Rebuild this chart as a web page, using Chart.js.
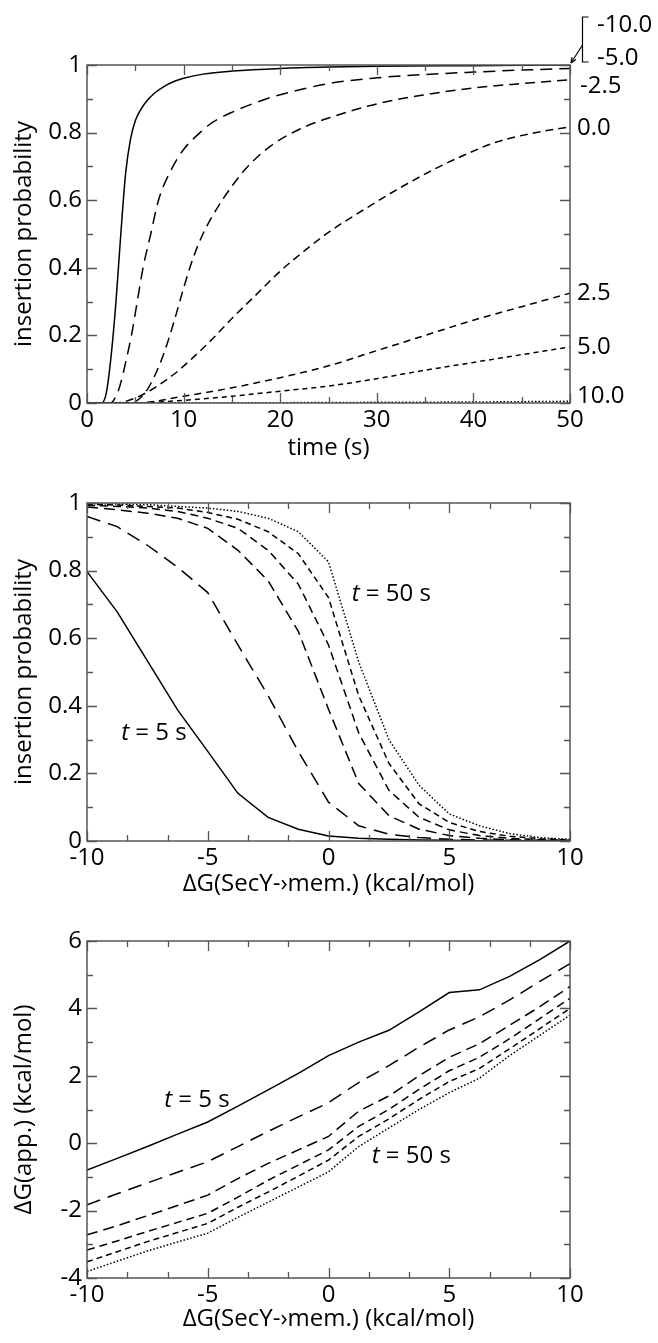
<!DOCTYPE html>
<html>
<head>
<meta charset="utf-8">
<script src="https://cdn.jsdelivr.net/npm/chart.js@4.4.1/dist/chart.umd.min.js"></script>
<style>
html,body{margin:0;padding:0;background:#fff;}
canvas{position:absolute;left:0;display:block;}
</style>
</head>
<body>
<canvas id="c1" width="658" height="470" style="top:0px"></canvas>
<canvas id="c2" width="658" height="440" style="top:470px"></canvas>
<canvas id="c3" width="658" height="433" style="top:910px"></canvas>
<script>
// ---------- Panel 1: insertion probability vs time, for several ΔG values ----------
const seriesLabels = ['-10.0', '-5.0', '-2.5', '0.0', '2.5', '5.0', '10.0'];
const timeM10 = [0,1.5,2,2.5,3,3.5,4,4.5,5,5.5,6,7,8,9,10,12,15,20,25,30,40,50];
const probM10 = [0,0,0.03,0.14,0.3,0.5,0.68,0.78,0.835,0.865,0.887,0.917,0.937,0.951,0.961,0.973,0.982,0.99,0.994,0.996,0.998,1.0];
const timeM5  = [0,2.4,3,3.5,4,4.6,5.2,5.8,6.6,7.4,8.9,10,11.7,13,15,18.6,20,25,30,35,40,45,50];
const probM5  = [0,0,0.02,0.06,0.12,0.2,0.3,0.4,0.5,0.6,0.7,0.75,0.8,0.83,0.86,0.9,0.912,0.945,0.962,0.972,0.979,0.985,0.99];
const timeM25 = [0,4.5,6,7,8,9,10,11,12,14,16.5,19,22,25,30,35,40,45,50];
const probM25 = [0,0,0.03,0.08,0.15,0.24,0.34,0.43,0.5,0.6,0.695,0.76,0.81,0.843,0.885,0.912,0.932,0.945,0.956];
const time0   = [0,3,5,7,9,11,13,15,17.5,20,22.5,25,28.6,32,35.5,39,42.4,45.9,50];
const prob0   = [0,0,0.015,0.045,0.085,0.135,0.19,0.25,0.32,0.39,0.45,0.505,0.571,0.63,0.685,0.733,0.772,0.797,0.817];
const time25  = [0,5,10,15,20,25,30,35,40,45,50];
const prob25  = [0,0,0.02,0.045,0.075,0.11,0.155,0.2,0.245,0.285,0.325];
const time5   = [0,5,10,15,20,25,30,35,40,45,50];
const prob5   = [0,0,0.008,0.02,0.035,0.05,0.072,0.097,0.12,0.143,0.166];
const time10  = [0,10,20,30,40,50];
const prob10  = [0,0,0.001,0.002,0.003,0.005];

// ---------- Panels 2 and 3: versus ΔG(SecY->mem.) ----------
const dG = [-10,-8.75,-7.5,-6.25,-5,-3.75,-2.5,-1.25,0,1.25,2.5,3.75,5,6.25,7.5,8.75,10];
const insT5  = [0.797,0.678,0.533,0.388,0.265,0.141,0.07,0.035,0.015,0.008,0.005,0.003,0.002,0.001,0.001,0.0005,0.0003];
const insT10 = [0.96,0.93,0.875,0.81,0.735,0.58,0.43,0.265,0.115,0.045,0.02,0.01,0.005,0.003,0.002,0.001,0.0005];
const insT20 = [0.988,0.98,0.97,0.955,0.925,0.86,0.77,0.62,0.39,0.17,0.075,0.035,0.016,0.008,0.004,0.002,0.001];
const insT30 = [0.993,0.99,0.985,0.975,0.955,0.925,0.86,0.76,0.58,0.32,0.15,0.07,0.033,0.016,0.008,0.004,0.002];
const insT40 = [0.996,0.994,0.99,0.985,0.972,0.952,0.915,0.85,0.72,0.43,0.23,0.11,0.055,0.028,0.014,0.007,0.003];
const insT50 = [0.998,0.997,0.995,0.99,0.985,0.975,0.955,0.915,0.826,0.53,0.30,0.165,0.08,0.045,0.022,0.01,0.005];

const appT5  = [-0.8,-0.45,-0.1,0.27,0.63,1.1,1.58,2.07,2.6,3.0,3.35,3.9,4.47,4.55,4.95,5.45,6.0];
const appT10 = [-1.83,-1.5,-1.18,-0.86,-0.55,-0.1,0.35,0.78,1.2,1.8,2.3,2.85,3.36,3.75,4.25,4.8,5.33];
const appT20 = [-2.72,-2.45,-2.15,-1.85,-1.54,-1.05,-0.6,-0.2,0.2,0.95,1.4,2.0,2.55,2.95,3.5,4.05,4.65];
const appT30 = [-3.17,-2.9,-2.62,-2.35,-2.08,-1.6,-1.1,-0.65,-0.2,0.5,1.0,1.6,2.15,2.55,3.1,3.7,4.3];
const appT40 = [-3.52,-3.22,-2.92,-2.65,-2.38,-1.9,-1.45,-0.98,-0.5,0.2,0.72,1.3,1.83,2.22,2.8,3.4,4.0];
const appT50 = [-3.81,-3.5,-3.2,-2.93,-2.67,-2.2,-1.75,-1.3,-0.85,-0.1,0.45,1.0,1.5,1.93,2.6,3.2,3.8];

const timeTicks = [0,10,20,30,40,50];
const probTicks = [0,0.2,0.4,0.6,0.8,1];
const dGTicks = [-10,-5,0,5,10];
const appTicks = [-4,-2,0,2,4,6];

// ---------- helpers ----------
const FONT = '"Open Sans", "DejaVu Sans", sans-serif';
Chart.defaults.font.family = FONT;
Chart.defaults.font.size = 24;
Chart.defaults.color = '#000';

const pts = (xs, ys) => xs.map((x, i) => ({x, y: ys[i]}));
function line(xs, ys, dash, smooth) {
  return {
    data: pts(xs, ys), borderColor: '#000', borderWidth: 1.5, borderDash: dash,
    pointRadius: 0, fill: false, tension: 0,
    cubicInterpolationMode: smooth ? 'monotone' : 'default', borderCapStyle: 'butt'
  };
}

const frameTicks = {
  id: 'frameTicks',
  afterDatasetsDraw(chart, args, o) {
    const {ctx, chartArea: a, scales: {x, y}} = chart;
    ctx.save();
    ctx.strokeStyle = '#555';
    ctx.lineWidth = 1.3;
    ctx.beginPath();
    const nx = Math.round((o.xMax - o.xMin) / o.xMinor);
    for (let i = 0; i <= nx; i++) {
      const v = o.xMin + i * o.xMinor;
      const r = v / o.xMajor;
      const L = Math.abs(r - Math.round(r)) < 1e-6 ? 10 : 6;
      const px = Math.round(x.getPixelForValue(v)) + 0.5;
      ctx.moveTo(px, a.bottom); ctx.lineTo(px, a.bottom - L);
      ctx.moveTo(px, a.top); ctx.lineTo(px, a.top + L);
    }
    const ny = Math.round((o.yMax - o.yMin) / o.yMinor);
    for (let i = 0; i <= ny; i++) {
      const v = o.yMin + i * o.yMinor;
      const r = v / o.yMajor;
      const L = Math.abs(r - Math.round(r)) < 1e-6 ? 10 : 6;
      const py = Math.round(y.getPixelForValue(v)) + 0.5;
      ctx.moveTo(a.left, py); ctx.lineTo(a.left + L, py);
      ctx.moveTo(a.right, py); ctx.lineTo(a.right - L, py);
    }
    ctx.stroke();
    ctx.lineWidth = 1.5;
    ctx.strokeRect(a.left, a.top, a.right - a.left, a.bottom - a.top);
    ctx.restore();
  }
};

function drawTLabel(ctx, cx, cy, rest) {
  ctx.save();
  ctx.fillStyle = '#000';
  ctx.textBaseline = 'middle';
  ctx.textAlign = 'left';
  const fi = 'italic 24px ' + FONT, fn = '24px ' + FONT;
  ctx.font = fi; const w1 = ctx.measureText('t').width;
  ctx.font = fn; const w2 = ctx.measureText(rest).width;
  let x0 = cx - (w1 + w2) / 2;
  ctx.font = fi; ctx.fillText('t', x0, cy);
  ctx.font = fn; ctx.fillText(rest, x0 + w1, cy);
  ctx.restore();
}

const tLabels = {
  id: 'tLabels',
  afterDraw(chart, args, o) {
    if (!o.items) return;
    const {ctx, scales: {x, y}} = chart;
    o.items.forEach(it => drawTLabel(ctx, x.getPixelForValue(it[0]), y.getPixelForValue(it[1]), it[2]));
  }
};

const curveLabels = {
  id: 'curveLabels',
  afterDraw(chart, args, o) {
    if (!o.show) return;
    const {ctx, chartArea: a, scales: {y}} = chart;
    const ds = chart.data.datasets;
    const endY = i => y.getPixelForValue(ds[i].data[ds[i].data.length - 1].y);
    ctx.save();
    ctx.fillStyle = '#000';
    ctx.font = '24px ' + FONT;
    ctx.textBaseline = 'middle';
    ctx.textAlign = 'left';
    const xr = a.right;
    const top = endY(0);
    ctx.fillText(seriesLabels[0], xr + 27, top - 40);
    ctx.fillText(seriesLabels[1], xr + 27, top - 7);
    ctx.fillText(seriesLabels[2], xr + 10, endY(2) + 6);
    ctx.fillText(seriesLabels[3], xr + 7, endY(3) + 1);
    ctx.fillText(seriesLabels[4], xr + 7, endY(4));
    ctx.fillText(seriesLabels[5], xr + 7, endY(5));
    ctx.fillText(seriesLabels[6], xr + 7, endY(6) - 5);
    ctx.strokeStyle = '#000';
    ctx.lineWidth = 1.2;
    const bx = xr + 12.5;
    ctx.beginPath();
    ctx.moveTo(bx + 6, top - 48); ctx.lineTo(bx, top - 48); ctx.lineTo(bx, top - 3); ctx.lineTo(bx + 6, top - 3);
    ctx.moveTo(bx, top - 20); ctx.lineTo(xr + 1, top - 2);
    ctx.stroke();
    const ang = Math.atan2((top - 2) - (top - 20), (xr + 1) - bx);
    ctx.beginPath();
    ctx.moveTo(xr + 1, top - 2);
    ctx.lineTo(xr + 1 - 6 * Math.cos(ang - 0.4), top - 2 - 6 * Math.sin(ang - 0.4));
    ctx.moveTo(xr + 1, top - 2);
    ctx.lineTo(xr + 1 - 6 * Math.cos(ang + 0.4), top - 2 - 6 * Math.sin(ang + 0.4));
    ctx.stroke();
    ctx.restore();
  }
};

function fmt(v) { return String(+(+v).toFixed(1)); }

function makeChart(id, datasets, cfg) {
  return new Chart(document.getElementById(id), {
    type: 'line',
    data: {datasets},
    plugins: [frameTicks, tLabels, curveLabels],
    options: {
      responsive: false,
      animation: false,
      events: [],
      layout: {padding: {left: 0, right: 88, top: cfg.areaTop, bottom: 0}},
      plugins: {
        legend: {display: false},
        tooltip: {enabled: false},
        frameTicks: cfg.ticks,
        tLabels: {items: cfg.tItems},
        curveLabels: {show: !!cfg.curveLabels}
      },
      scales: {
        x: {
          type: 'linear', min: cfg.xMin, max: cfg.xMax,
          grid: {display: false, drawTicks: false},
          border: {display: false},
          afterBuildTicks: s => { s.ticks = cfg.xTicks.map(v => ({value: v})); },
          afterFit: s => { s.height = cfg.canvasH - cfg.areaBottom; },
          ticks: {padding: 3, maxRotation: 0, autoSkip: false, callback: v => fmt(v)},
          title: {display: true, text: cfg.xTitle, padding: {top: 0, bottom: cfg.xTitlePad}, font: {size: 24}}
        },
        y: {
          type: 'linear', min: cfg.yMin, max: cfg.yMax,
          grid: {display: false, drawTicks: false},
          border: {display: false},
          afterBuildTicks: s => { s.ticks = cfg.yTicks.map(v => ({value: v})); },
          afterFit: s => { s.width = 87; },
          ticks: {padding: 5, autoSkip: false, callback: v => fmt(v)},
          title: {display: true, text: cfg.yTitle, padding: {top: 10, bottom: 0}, font: {size: 24}}
        }
      }
    }
  });
}

// Panel 1
makeChart('c1', [
  line(timeM10, probM10, [], true),
  line(timeM5, probM5, [12, 7], true),
  line(timeM25, probM25, [10, 6], true),
  line(time0, prob0, [8, 5], true),
  line(time25, prob25, [7, 5], true),
  line(time5, prob5, [5, 4], true),
  line(time10, prob10, [1.5, 2], true)
], {
  areaTop: 65, areaBottom: 403, canvasH: 470,
  xMin: 0, xMax: 50, yMin: 0, yMax: 1,
  xTicks: timeTicks, yTicks: probTicks,
  xTitle: 'time (s)', yTitle: 'insertion probability', xTitlePad: 7,
  ticks: {xMin: 0, xMax: 50, xMinor: 5, xMajor: 10, yMin: 0, yMax: 1, yMinor: 0.1, yMajor: 0.2},
  tItems: null, curveLabels: true
});

// Panel 2
makeChart('c2', [
  line(dG, insT5, []),
  line(dG, insT10, [14, 8]),
  line(dG, insT20, [11, 6]),
  line(dG, insT30, [8, 5]),
  line(dG, insT40, [6, 4]),
  line(dG, insT50, [1.5, 2])
], {
  areaTop: 33, areaBottom: 371, canvasH: 440,
  xMin: -10, xMax: 10, yMin: 0, yMax: 1,
  xTicks: dGTicks, yTicks: probTicks,
  xTitle: 'ΔG(SecY-›mem.) (kcal/mol)', yTitle: 'insertion probability', xTitlePad: 11,
  ticks: {xMin: -10, xMax: 10, xMinor: 5 / 3, xMajor: 5, yMin: 0, yMax: 1, yMinor: 0.1, yMajor: 0.2},
  tItems: [[-7.23, 0.32, ' = 5 s'], [2.6, 0.73, ' = 50 s']]
});

// Panel 3
makeChart('c3', [
  line(dG, appT5, []),
  line(dG, appT10, [14, 8]),
  line(dG, appT20, [11, 6]),
  line(dG, appT30, [8, 5]),
  line(dG, appT40, [6, 4]),
  line(dG, appT50, [1.5, 2])
], {
  areaTop: 31, areaBottom: 368, canvasH: 433,
  xMin: -10, xMax: 10, yMin: -4, yMax: 6,
  xTicks: dGTicks, yTicks: appTicks,
  xTitle: 'ΔG(SecY-›mem.) (kcal/mol)', yTitle: 'ΔG(app.) (kcal/mol)', xTitlePad: 9,
  ticks: {xMin: -10, xMax: 10, xMinor: 5 / 3, xMajor: 5, yMin: -4, yMax: 6, yMinor: 1, yMajor: 2},
  tItems: [[-5.45, 1.28, ' = 5 s'], [3.43, -0.38, ' = 50 s']]
});
</script>
</body>
</html>
